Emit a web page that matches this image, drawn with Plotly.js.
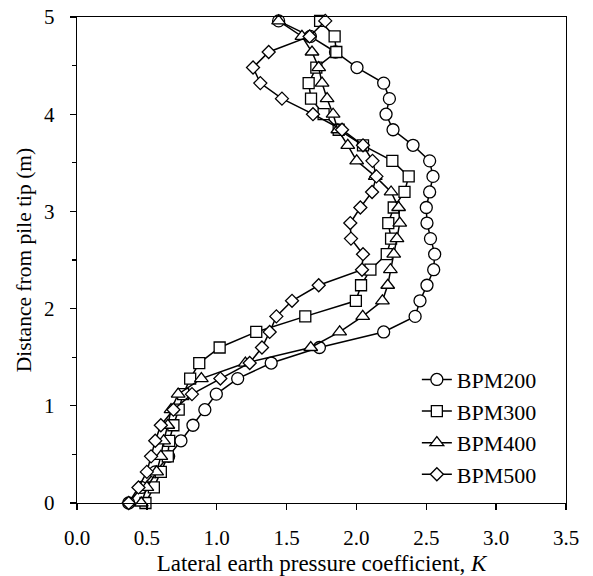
<!DOCTYPE html>
<html>
<head>
<meta charset="utf-8">
<script src="https://cdn.plot.ly/plotly-3.0.1.min.js"></script>
<style>html,body{margin:0;padding:0;background:#fff;}#chart{width:593px;height:576px;}</style>
</head>
<body>
<div id="chart"></div>
<script>
// Distance from pile tip (m)
const depth = [0.00,0.16,0.32,0.48,0.64,0.80,0.96,1.12,1.28,1.44,1.60,1.76,1.92,2.08,2.24,2.40,
               2.56,2.72,2.88,3.04,3.20,3.36,3.52,3.68,3.84,4.00,4.16,4.32,4.48,4.64,4.80,4.96];
// Lateral earth pressure coefficient K
const bpm200 = [0.37,0.46,0.56,0.656,0.744,0.83,0.915,0.997,1.15,1.39,1.735,2.195,2.42,2.455,2.505,2.553,
                2.56,2.53,2.505,2.50,2.524,2.548,2.524,2.405,2.262,2.212,2.236,2.195,2.004,1.85,1.67,1.443];
const bpm300 = [0.49,0.55,0.60,0.65,0.66,0.69,0.728,0.76,0.81,0.875,1.021,1.283,1.634,1.996,2.033,2.10,
                2.217,2.248,2.228,2.267,2.344,2.374,2.257,2.047,1.873,1.765,1.675,1.658,1.713,1.856,1.844,1.74];
const bpm400 = [0.46,0.50,0.57,0.60,0.62,0.65,0.673,0.724,0.89,1.205,1.673,1.88,2.045,2.186,2.224,2.243,
                2.267,2.29,2.31,2.302,2.248,2.135,2.002,1.938,1.867,1.833,1.79,1.754,1.73,1.682,1.61,1.443];
const bpm500 = [0.37,0.44,0.50,0.53,0.56,0.60,0.69,0.823,1.026,1.236,1.324,1.379,1.427,1.539,1.73,2.04,
                2.047,1.961,1.956,2.028,2.112,2.143,2.115,2.047,1.897,1.689,1.467,1.312,1.26,1.372,1.665,1.777];
const names = ["BPM200","BPM300","BPM400","BPM500"];
const xTickVals = [0,0.5,1,1.5,2,2.5,3,3.5];
const xTickText = ["0.0","0.5","1.0","1.5","2.0","2.5","3.0","3.5"];
const yTickVals = [0,1,2,3,4,5];

const FONT = "Liberation Serif, Times New Roman, serif";
const series = [bpm200,bpm300,bpm400,bpm500];
const symbols = ["circle","square","triangle-up","diamond"];
const sizes = [12,11,12,10];

const traces = series.map((s,i)=>({
  x: s, y: depth, type: "scatter", mode: "lines+markers", name: names[i],
  line: {color: "#000", width: 1.5},
  marker: {symbol: symbols[i], size: sizes[i], color: "#fff", line: {color: "#000", width: 1.3}},
  cliponaxis: false
}));

const layout = {
  width: 593, height: 576,
  margin: {l: 77, r: 27, t: 17, b: 73},
  paper_bgcolor: "#fff", plot_bgcolor: "#fff",
  font: {family: FONT, size: 21, color: "#000"},
  showlegend: true,
  legend: {x: 0.695, y: 0.297, xanchor: "left", yanchor: "top", bgcolor: "rgba(0,0,0,0)",
           font: {family: FONT, size: 22, color: "#000"}, tracegroupgap: 0},
  xaxis: {
    range: [0, 3.5], tickvals: xTickVals, ticktext: xTickText,
    ticks: "outside", ticklen: 6, tickwidth: 1.3, tickcolor: "#000",
    ticklabelstandoff: 9,
    tickfont: {family: FONT, size: 21},
    showline: true, linecolor: "#000", linewidth: 1.3, mirror: true,
    showgrid: false, zeroline: false,
    title: {text: "Lateral earth pressure coefficient, <i>K</i>", font: {family: FONT, size: 23}, standoff: 8}
  },
  yaxis: {
    range: [0, 5], tickvals: yTickVals,
    ticks: "outside", ticklen: 6, tickwidth: 1.3, tickcolor: "#000",
    ticklabelstandoff: 11,
    tickfont: {family: FONT, size: 21},
    minor: {dtick: 0.5, ticks: "outside", ticklen: 4, tickwidth: 1.3, tickcolor: "#000", showgrid: false},
    showline: true, linecolor: "#000", linewidth: 1.3, mirror: true,
    showgrid: false, zeroline: false,
    title: {text: "Distance from pile tip (m)", font: {family: FONT, size: 21.5}, standoff: 6}
  }
};

Plotly.newPlot("chart", traces, layout, {displayModeBar: false, staticPlot: true});
</script>
</body>
</html>
